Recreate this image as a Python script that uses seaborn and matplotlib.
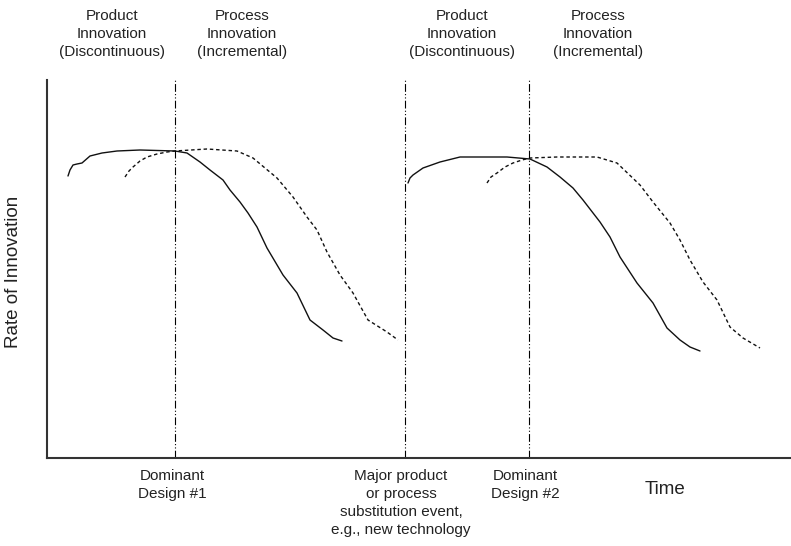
import seaborn as sns
import matplotlib.pyplot as plt
import pandas as pd

# Curves (time units, rate units)
product1_t = [21, 23, 26, 30, 35, 43, 55, 70, 93, 128, 140, 153, 163, 176, 183, 193, 201, 210, 220, 236, 250, 263, 276, 286, 295]
product1_r = [282, 288, 293, 294, 295, 302, 305, 307, 308, 307, 305, 296, 288, 278, 268, 256, 245, 231, 210, 183, 165, 138, 128, 120, 117]

process1_t = [78, 82, 86, 93, 100, 110, 120, 128, 160, 190, 206, 230, 246, 260, 270, 280, 293, 306, 321, 340, 351]
process1_r = [281, 287, 291, 297, 301, 304, 306, 307, 309, 307, 300, 280, 261, 241, 228, 206, 183, 165, 138, 126, 118]

product2_t = [361, 363, 366, 376, 393, 413, 460, 483, 500, 513, 526, 536, 553, 563, 573, 590, 606, 620, 633, 643, 653]
product2_r = [275, 280, 283, 290, 296, 301, 301, 299, 291, 281, 270, 258, 236, 221, 201, 175, 155, 130, 118, 111, 107]

process2_t = [440, 444, 450, 458, 466, 475, 483, 510, 550, 570, 593, 606, 623, 633, 643, 656, 670, 683, 696, 713]
process2_r = [275, 281, 285, 291, 295, 298, 300, 301, 301, 295, 273, 256, 235, 218, 198, 176, 158, 131, 120, 110]

events_t = [128, 358, 482]

top_labels = ["Product\nInnovation\n(Discontinuous)", "Process\nInnovation\n(Incremental)",
              "Product\nInnovation\n(Discontinuous)", "Process\nInnovation\n(Incremental)"]
bottom_labels = ["Dominant\nDesign #1",
                 "Major product\nor process\nsubstitution event,\ne.g., new technology",
                 "Dominant\nDesign #2"]

sns.set_style("white")
plt.rcParams['font.family'] = ['Liberation Sans Narrow', 'Liberation Sans', 'DejaVu Sans']

fig = plt.figure(figsize=(7.91, 5.46), dpi=100)
ax = fig.add_axes([47 / 791, 88 / 546, 744 / 791, 378 / 546])

curves = [
    (product1_t, product1_r, "-"),
    (process1_t, process1_r, "--"),
    (product2_t, product2_r, "-"),
    (process2_t, process2_r, "--"),
]
for t, r, ls in curves:
    df = pd.DataFrame({"t": t, "r": r})
    sns.lineplot(data=df, x="t", y="r", sort=False, ax=ax, color="#111111",
                 linewidth=1.0, linestyle=ls)
ax.lines[1].set_dashes((2.5, 2))
ax.lines[3].set_dashes((2.5, 2))

for x in events_t:
    ax.axvline(x, color="black", linewidth=0.8, dashes=(7, 2, 1, 2, 1, 2))

ax.set_xlim(0, 744)
ax.set_ylim(0, 378)
ax.set_xticks([])
ax.set_yticks([])
ax.set_xlabel("")
ax.set_ylabel("")
sns.despine(ax=ax, top=True, right=True)
for s in ["left", "bottom"]:
    ax.spines[s].set_linewidth(1.5)
    ax.spines[s].set_color("#333333")

top_x = [112, 242, 462, 598]
for x, lab in zip(top_x, top_labels):
    fig.text(x / 791, 1 - 9 / 546, lab, ha="center", va="top", fontsize=11,
             linespacing=1.35, color="#222222")

bottom_x = [172, 401, 525]
for x, lab in zip(bottom_x, bottom_labels):
    fig.text(x / 791, 1 - 469 / 546, lab, ha="center", va="top", fontsize=11,
             linespacing=1.35, color="#222222")

fig.text(665 / 791, 1 - 490 / 546, "Time", ha="center", va="center", fontsize=13.5, color="#222222")
fig.text(14 / 791, 1 - 272 / 546, "Rate of Innovation", ha="center", va="center",
         rotation=90, fontsize=13.5, color="#222222")

fig.savefig("out.png", dpi=100)
